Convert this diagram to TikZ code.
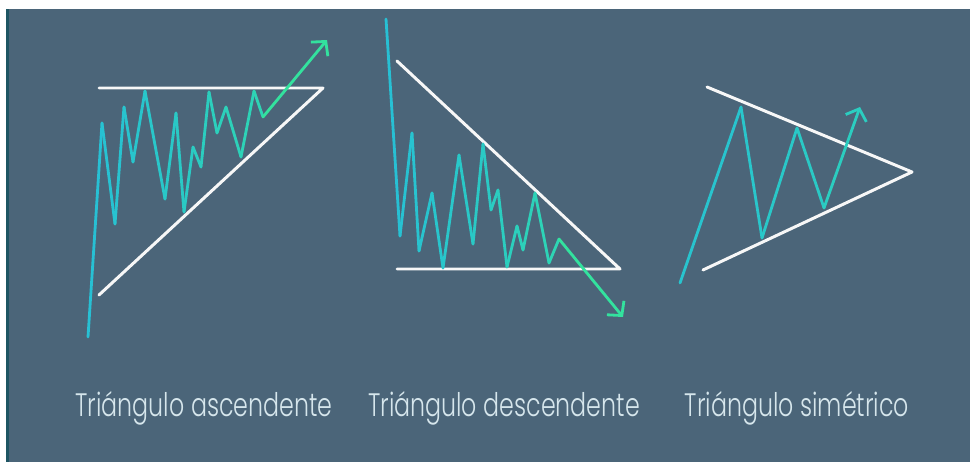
\documentclass[tikz,border=0pt]{standalone}
\usepackage{fontspec}
\newfontfamily\labelfont{Poppins}[UprightFont=* Light, FakeStretch=0.73]
\usetikzlibrary{arrows.meta}

\definecolor{slate}{HTML}{4B6579}
\definecolor{edgeteal}{HTML}{1E5563}
\definecolor{trendcyan}{HTML}{26BFD6}
\definecolor{trendgreen}{HTML}{33E29E}
\definecolor{labelgray}{HTML}{D6E6EC}

\begin{document}
\begin{tikzpicture}[
    x=0.02cm, y=-0.02cm,
    % --- Support / resistance lines ---
    bound/.style={
        draw=white!94!gray,
        line width=1.7pt,
        line cap=round,
        line join=round
    },
    % --- Price path ---
    zig/.style={
        line width=1.6pt,
        line cap=round,
        line join=round
    },
    % --- Breakout arrow ---
    breakout/.style={
        zig,
        -{Straight Barb[length=2mm, width=4.4mm]}
    },
    % --- Captions ---
    caption/.style={
        font=\labelfont\fontsize{18.5}{20}\selectfont,
        text=labelgray,
        anchor=base
    }
]

    % =========================================
    % 0. BACKGROUND
    % =========================================
    \useasboundingbox (0,0) rectangle (970,462);
    \fill[white] (0,0) rectangle (970,462);
    \fill[edgeteal] (6,9) rectangle (9,462);
    \fill[slate] (9,9) rectangle (970,462);

    % =========================================
    % 1. ASCENDING TRIANGLE
    % =========================================
    \coordinate (ascTL) at (99,88);
    \coordinate (ascTR) at (323,88);
    \coordinate (ascBL) at (99,295);
    \draw[bound] (ascTL) -- (ascTR) -- (ascBL);

    \foreach \x/\y [count=\i, remember=\x as \lx (initially 88),
                    remember=\y as \ly (initially 337)] in
        {102/123, 115/224, 124/107, 133/162, 145/91, 165/199, 176/113,
         184/212, 193/147, 201/167, 209/92, 217/133, 226/107, 241/157,
         254/91, 263/117} {
        \pgfmathtruncatemacro\mix{\i*60/16}
        \draw[zig, trendgreen!\mix!trendcyan] (\lx,\ly) -- (\x,\y);
    }
    \coordinate (ascLast) at (263,117);
    \coordinate (ascTip) at (327,40);
    \draw[breakout, trendgreen] (ascLast) -- (ascTip);

    % =========================================
    % 2. DESCENDING TRIANGLE
    % =========================================
    \coordinate (descTL) at (397,61);
    \coordinate (descBR) at (620,269);
    \coordinate (descBL) at (397,269);
    \draw[bound] (descTL) -- (descBR) -- (descBL);

    \foreach \x/\y [count=\i, remember=\x as \lx (initially 386),
                    remember=\y as \ly (initially 19)] in
        {400/236, 412/133, 419/251, 432/193, 443/268, 459/155, 473/244,
         483/144, 491/210, 498/190, 507/267, 517/226, 523/250, 535/193,
         549/263, 559/239} {
        \pgfmathtruncatemacro\mix{\i*60/16}
        \draw[zig, trendgreen!\mix!trendcyan] (\lx,\ly) -- (\x,\y);
    }
    \coordinate (descLast) at (559,239);
    \coordinate (descTip) at (623,317);
    \draw[breakout, trendgreen] (descLast) -- (descTip);

    % =========================================
    % 3. SYMMETRIC TRIANGLE
    % =========================================
    \coordinate (symTL) at (707,87);
    \coordinate (symR) at (912,172);
    \coordinate (symBL) at (703,270);
    \draw[bound] (symTL) -- (symR) -- (symBL);

    \foreach \x/\y [count=\i, remember=\x as \lx (initially 680),
                    remember=\y as \ly (initially 283)] in
        {741/107, 762/238, 797/128, 824/208} {
        \pgfmathtruncatemacro\mix{10+\i*5}
        \draw[zig, trendgreen!\mix!trendcyan] (\lx,\ly) -- (\x,\y);
    }
    \coordinate (symLast) at (824,208);
    \coordinate (symTip) at (860,107);
    \draw[breakout, trendgreen!40!trendcyan] (symLast) -- (symTip);

    % =========================================
    % 4. CAPTIONS
    % =========================================
    \node[caption] (ascLabel) at (204,417) {Triángulo ascendente};
    \node[caption] (descLabel) at (504,417) {Triángulo descendente};
    \node[caption] (symLabel) at (797,417) {Triángulo simétrico};

\end{tikzpicture}
\end{document}
